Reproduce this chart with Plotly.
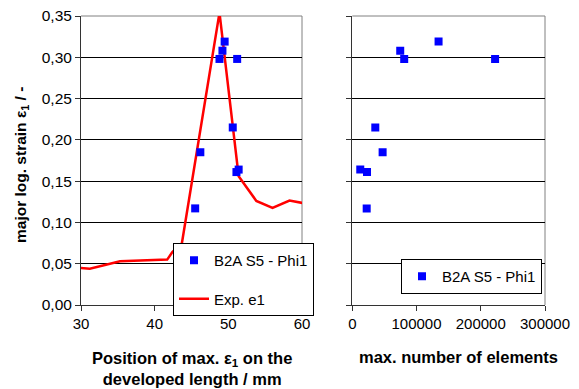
import plotly.graph_objects as go

# Data
pos_mm = [45.5, 46.2, 48.8, 49.2, 49.5, 51.2, 50.6, 51.1, 51.4]
phi1 = [0.117, 0.185, 0.298, 0.308, 0.319, 0.298, 0.215, 0.161, 0.164]
elements = [22400, 47200, 80800, 74600, 134300, 222300, 35800, 22900, 12400]

exp_x = [28.5, 31.2, 35.3, 41.7, 42.4, 43.7, 48.8, 51.4, 53.8, 56.0, 58.3, 60.7]
exp_y = [0.046, 0.044, 0.053, 0.055, 0.064, 0.075, 0.354, 0.156, 0.126, 0.1175, 0.1265, 0.1225]

y_ticks = [0, 0.05, 0.10, 0.15, 0.20, 0.25, 0.30, 0.35]
x1_ticks = [30, 40, 50, 60]
x2_ticks = [0, 100000, 200000, 300000]

FONT = "Liberation Sans, Arial, sans-serif"
W, H = 579, 389

fig = go.Figure()
fig.add_trace(go.Scatter(x=exp_x, y=exp_y, mode="lines", name="Exp. e1",
                         line=dict(color="#FF0000", width=2.5),
                         legend="legend", legendgroup="b", legendrank=2,
                         xaxis="x", yaxis="y"))
fig.add_trace(go.Scatter(x=pos_mm, y=phi1, mode="markers", name="B2A S5 - Phi1",
                         marker=dict(symbol="square", size=8, color="#0000FF"),
                         legend="legend", legendgroup="a", legendrank=1,
                         xaxis="x", yaxis="y"))
fig.add_trace(go.Scatter(x=elements, y=phi1, mode="markers", name="B2A S5 - Phi1",
                         marker=dict(symbol="square", size=8, color="#0000FF"),
                         legend="legend2", xaxis="x2", yaxis="y2"))

ydom = [1 - 305 / H, 1 - 16 / H]
common_y = dict(range=[0, 0.35], tickvals=y_ticks, tickformat=".2f",
                showgrid=True, gridcolor="#000000", gridwidth=1,
                showline=True, linecolor="#333333", linewidth=1,
                ticks="outside", ticklen=5, tickcolor="#333333",
                zeroline=False, domain=ydom, automargin=False,
                tickfont=dict(family=FONT, size=15.5, color="#000"))
common_x = dict(showgrid=False, showline=True, linecolor="#333333", linewidth=1,
                ticks="outside", ticklen=5, tickcolor="#333333", zeroline=False,
                automargin=False, tickfont=dict(family=FONT, size=15, color="#000"))

fig.update_layout(
    width=W, height=H,
    margin=dict(l=0, r=0, t=0, b=0),
    paper_bgcolor="white", plot_bgcolor="white",
    separators=",.",
    font=dict(family=FONT, size=15, color="#000"),
    xaxis=dict(common_x, range=[30, 60], tickvals=x1_ticks,
               domain=[81 / W, 302 / W], anchor="y"),
    yaxis=dict(common_y, anchor="x"),
    xaxis2=dict(common_x, range=[0, 300000], tickvals=x2_ticks, tickformat="d",
                domain=[352.3 / W, 545 / W], anchor="y2"),
    yaxis2=dict(common_y, anchor="x2", showticklabels=False),
    legend=dict(x=173 / W, y=1 - 243 / H, xanchor="left", yanchor="top",
                bgcolor="white", bordercolor="#000", borderwidth=1,
                font=dict(family=FONT, size=15), tracegroupgap=16,
                itemwidth=30),
    legend2=dict(x=401 / W, y=1 - 259 / H, xanchor="left", yanchor="top",
                 bgcolor="white", bordercolor="#000", borderwidth=1,
                 font=dict(family=FONT, size=15), itemwidth=30),
    showlegend=True,
)

# gray plot-area border (top and right)
for xd, yd in (("x domain", "y domain"), ("x2 domain", "y2 domain")):
    fig.add_shape(type="line", xref=xd, yref=yd, x0=0, x1=1, y0=1, y1=1,
                  line=dict(color="#808080", width=1), layer="below")
    fig.add_shape(type="line", xref=xd, yref=yd, x0=1, x1=1, y0=0, y1=1,
                  line=dict(color="#808080", width=1), layer="below")

fig.add_annotation(text="<b>major log. strain ε<sub>1</sub> / -</b>",
                   xref="paper", yref="paper", x=21 / W, y=1 - 165 / H,
                   textangle=-90, showarrow=False, xanchor="center", yanchor="middle",
                   font=dict(family=FONT, size=15.5, color="#000"))
fig.add_annotation(text="<b>Position of max. ε<sub>1</sub> on the<br>developed length / mm</b>",
                   xref="paper", yref="paper", x=192 / W, y=1 - 368 / H,
                   showarrow=False, xanchor="center", yanchor="middle",
                   font=dict(family=FONT, size=16.5, color="#000"))
fig.add_annotation(text="<b>max. number of elements</b>",
                   xref="paper", yref="paper", x=458 / W, y=1 - 357 / H,
                   showarrow=False, xanchor="center", yanchor="middle",
                   font=dict(family=FONT, size=16.5, color="#000"))

fig.write_html("out.html",
               config={"displayModeBar": False},
               post_script="document.body.style.margin='0';document.body.style.padding='0';")
